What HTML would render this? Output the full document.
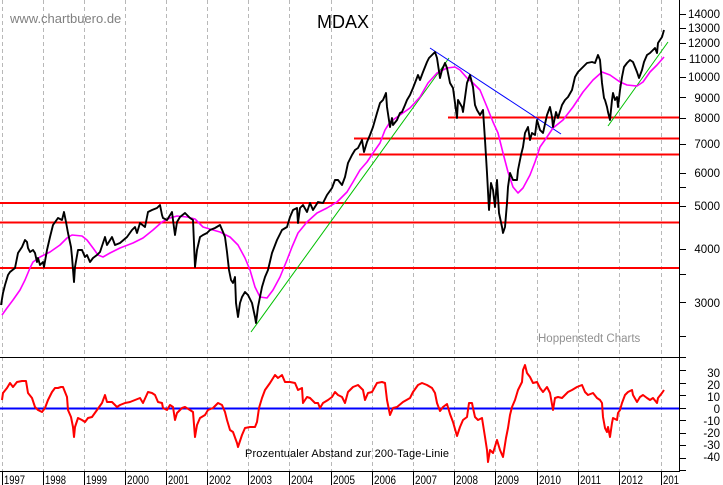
<!DOCTYPE html>
<html><head><meta charset="utf-8"><style>
html,body{margin:0;padding:0;background:#fff;}
svg{display:block;}
text{font-family:"Liberation Sans",Arial,sans-serif;}
</style></head><body>
<svg width="723" height="485" viewBox="0 0 723 485" xmlns="http://www.w3.org/2000/svg">
<rect width="723" height="485" fill="#fff"/>
<g stroke="#b8b8b8" stroke-width="1" stroke-dasharray="4,3">
<line x1="2.5" y1="0" x2="2.5" y2="471"/>
<line x1="43.5" y1="0" x2="43.5" y2="471"/>
<line x1="84.5" y1="0" x2="84.5" y2="471"/>
<line x1="125.5" y1="0" x2="125.5" y2="471"/>
<line x1="166.5" y1="0" x2="166.5" y2="471"/>
<line x1="207.5" y1="0" x2="207.5" y2="471"/>
<line x1="248.5" y1="0" x2="248.5" y2="471"/>
<line x1="289.5" y1="0" x2="289.5" y2="471"/>
<line x1="331.5" y1="0" x2="331.5" y2="471"/>
<line x1="372.5" y1="0" x2="372.5" y2="471"/>
<line x1="413.5" y1="0" x2="413.5" y2="471"/>
<line x1="454.5" y1="0" x2="454.5" y2="471"/>
<line x1="495.5" y1="0" x2="495.5" y2="471"/>
<line x1="537.5" y1="0" x2="537.5" y2="471"/>
<line x1="578.5" y1="0" x2="578.5" y2="471"/>
<line x1="619.5" y1="0" x2="619.5" y2="471"/>
<line x1="661.5" y1="0" x2="661.5" y2="471"/>
</g>
<text x="10" y="23" font-size="13" fill="#808080">www.chartbuero.de</text>
<text x="343" y="28" font-size="18" fill="#000" text-anchor="middle">MDAX</text>
<text x="538" y="342" font-size="11.5" fill="#909090">Hoppenstedt Charts</text>
<!-- horizontal red support lines -->
<g stroke="#ff0000" stroke-width="2">
<line x1="448" y1="117.5" x2="679" y2="117.5"/>
<line x1="354" y1="138.5" x2="679" y2="138.5"/>
<line x1="359" y1="154.5" x2="679" y2="154.5"/>
<line x1="0" y1="203" x2="679" y2="203"/>
<line x1="0" y1="222.5" x2="679" y2="222.5"/>
<line x1="0" y1="268" x2="679" y2="268"/>
</g>
<!-- trend lines -->
<line x1="251" y1="332" x2="449" y2="58" stroke="#00c000" stroke-width="1"/>
<line x1="608" y1="126" x2="668" y2="42" stroke="#00c000" stroke-width="1"/>
<line x1="430" y1="48" x2="561" y2="134" stroke="#0000ff" stroke-width="1"/>
<!-- 200 day line -->
<polyline fill="none" stroke="#ff00ff" stroke-width="1.6" stroke-linejoin="round" points="2,315 7,308 13,300 20,290 25,280 30,268 33,262 40,257 50,252 60,245 67,238 72,235 82,236 87,240 93,248 98,255 103,257 110,253 120,248 133,243 143,238 153,230 162,222 170,218 177,216 187,217 195,219 203,227 213,230 220,232 230,237 238,245 245,258 250,270 255,287 260,297 267,298 273,290 280,277 287,260 292,247 298,233 307,222 317,213 327,208 337,202 347,192 353,182 360,170 367,162 373,153 380,143 385,130 390,122 400,115 410,108 420,97 428,83 437,73 447,68 455,67 460,70 467,78 473,83 480,90 487,107 493,122 498,133 503,153 508,172 513,187 518,193 523,188 530,175 535,162 540,147 547,137 553,128 563,120 573,107 583,92 593,80 602,72 610,75 620,82 627,85 637,86 643,82 650,72 657,65 664,57"/>
<!-- price -->
<polyline fill="none" stroke="#000" stroke-width="1.9" stroke-linejoin="round" points="1,305 3,293 5,285 8,275 10,272 15,268 18,253 22,247 25,240 27,242 28,248 30,252 33,250 35,253 37,262 38,258 40,265 43,262 44,267 47,250 50,237 53,225 58,218 62,220 64,212 66,222 68,233 71,247 72,257 74,282 75,267 78,250 82,250 85,257 87,255 90,262 93,258 97,255 100,252 105,237 107,245 112,237 115,245 120,243 127,237 132,230 135,227 137,233 140,223 145,227 148,212 152,210 157,208 160,205 162,215 163,218 167,220 172,212 173,220 175,235 177,222 180,217 185,213 190,218 193,220 195,267 197,250 200,237 203,235 207,233 210,230 215,228 220,225 223,232 225,237 227,252 229,270 231,280 233,283 235,277 236,303 238,317 240,303 242,297 245,292 248,295 252,303 255,317 256,323 258,307 262,287 265,277 268,270 272,253 277,240 282,230 287,227 290,217 293,210 297,208 298,223 300,208 303,205 307,212 310,203 313,210 318,202 323,203 327,195 332,188 335,180 338,180 342,185 345,177 348,163 352,155 355,150 358,148 362,140 364,152 367,142 370,135 373,127 377,113 380,103 383,100 386,93 387,107 390,127 392,118 393,125 397,120 400,113 402,112 405,105 407,100 410,95 413,88 418,75 420,80 423,72 427,62 429,58 432,55 435,52 437,58 440,78 442,70 445,63 447,68 450,83 453,88 455,103 457,118 458,100 462,107 463,112 467,83 470,75 473,87 475,105 477,110 480,115 483,110 485,140 487,173 489,210 491,183 493,190 495,207 497,180 499,213 502,227 503,233 505,227 507,203 508,187 510,173 513,180 517,180 518,170 521,155 523,147 525,133 528,127 530,140 532,133 535,135 537,120 540,130 543,133 547,115 550,107 552,117 553,127 556,112 558,118 562,105 565,100 568,97 572,90 575,77 578,72 583,67 587,63 592,62 595,63 598,55 600,60 602,83 604,98 605,100 607,107 608,112 610,120 612,100 613,93 615,100 617,97 618,107 620,90 622,77 624,67 627,63 630,60 633,62 635,67 637,72 639,78 642,70 644,62 647,55 650,53 653,50 655,48 657,53 658,43 662,37 664,30"/>
<!-- separator -->
<line x1="0" y1="357.5" x2="679" y2="357.5" stroke="#000" stroke-width="1"/>
<!-- oscillator -->
<line x1="0" y1="408.5" x2="679" y2="408.5" stroke="#0000ff" stroke-width="2"/>
<polyline fill="none" stroke="#ff0000" stroke-width="2" stroke-linejoin="round" points="2,400 3,393 7,388 10,383 13,387 17,382 22,381 26,381 28,393 32,398 35,407 38,410 42,412 45,408 48,400 52,392 55,388 58,388 61,387 63,387 65,392 67,397 68,410 71,417 73,427 74,437 75,427 78,418 82,420 85,422 88,418 92,417 97,410 102,403 105,395 107,402 112,402 117,407 120,405 125,403 130,402 135,400 140,398 143,403 148,392 152,393 155,395 158,402 162,403 163,408 167,410 170,405 173,407 175,420 177,413 182,408 185,407 190,410 193,412 195,437 197,425 200,418 205,415 208,410 213,408 218,403 222,405 225,412 227,420 230,430 233,432 237,443 238,447 242,435 245,428 250,427 255,427 257,422 259,408 262,398 265,390 270,383 275,375 278,378 282,375 285,382 290,382 295,383 298,390 302,388 303,403 307,397 310,398 315,403 318,403 320,408 323,403 328,400 332,397 335,392 338,395 342,397 345,403 348,392 353,387 358,385 363,390 365,400 368,393 372,392 377,383 382,382 385,383 387,400 390,415 393,408 397,407 403,402 410,398 413,392 418,385 422,383 427,385 432,388 435,393 437,403 440,411 443,407 447,404 450,414 453,422 457,436 460,427 463,420 467,417 469,403 472,403 473,408 475,417 478,420 482,418 485,437 487,450 488,462 490,450 493,453 497,440 500,450 503,457 506,438 508,428 510,415 512,407 515,400 518,390 522,382 523,370 525,365 527,373 530,377 533,383 537,382 540,388 543,392 547,387 550,393 553,410 555,398 558,397 562,398 565,395 568,392 572,390 577,387 582,385 585,392 588,395 593,393 597,398 600,400 602,403 603,417 605,428 607,432 608,427 610,437 612,423 613,418 617,420 618,413 620,410 622,403 625,395 628,392 632,390 633,395 637,402 640,397 643,395 647,398 650,400 653,398 657,403 658,398 662,393 664,390"/>
<text x="245" y="457" font-size="11" fill="#000" textLength="204" lengthAdjust="spacing">Prozentualer Abstand zur 200-Tage-Linie</text>
<!-- right axis -->
<line x1="679.5" y1="0" x2="679.5" y2="472" stroke="#000" stroke-width="1"/>
<g stroke="#000" stroke-width="1">
<line x1="679" y1="14.5" x2="686" y2="14.5"/>
<line x1="679" y1="28.5" x2="686" y2="28.5"/>
<line x1="679" y1="43.5" x2="686" y2="43.5"/>
<line x1="679" y1="59.5" x2="686" y2="59.5"/>
<line x1="679" y1="77.5" x2="686" y2="77.5"/>
<line x1="679" y1="97.5" x2="686" y2="97.5"/>
<line x1="679" y1="118.5" x2="686" y2="118.5"/>
<line x1="679" y1="144.5" x2="686" y2="144.5"/>
<line x1="679" y1="173.5" x2="686" y2="173.5"/>
<line x1="679" y1="187.5" x2="686" y2="187.5"/>
<line x1="679" y1="206.5" x2="686" y2="206.5"/>
<line x1="679" y1="249.5" x2="686" y2="249.5"/>
<line x1="679" y1="274.5" x2="686" y2="274.5"/>
<line x1="679" y1="302.5" x2="686" y2="302.5"/>
<line x1="679" y1="336.5" x2="686" y2="336.5"/>
<line x1="679" y1="357.5" x2="686" y2="357.5"/>
<line x1="679" y1="370.5" x2="686" y2="370.5"/>
<line x1="679" y1="383.5" x2="686" y2="383.5"/>
<line x1="679" y1="395.5" x2="686" y2="395.5"/>
<line x1="679" y1="408.5" x2="686" y2="408.5"/>
<line x1="679" y1="420.5" x2="686" y2="420.5"/>
<line x1="679" y1="433.5" x2="686" y2="433.5"/>
<line x1="679" y1="445.5" x2="686" y2="445.5"/>
<line x1="679" y1="458.5" x2="686" y2="458.5"/>
<line x1="679" y1="470.5" x2="686" y2="470.5"/>
</g>
<g font-size="11.5" fill="#000" text-anchor="end">
<text x="720" y="18">14000</text>
<text x="720" y="32">13000</text>
<text x="720" y="47">12000</text>
<text x="720" y="63">11000</text>
<text x="720" y="81">10000</text>
<text x="720" y="102">9000</text>
<text x="720" y="122">8000</text>
<text x="720" y="148">7000</text>
<text x="720" y="177">6000</text>
<text x="720" y="210">5000</text>
<text x="720" y="253">4000</text>
<text x="720" y="307">3000</text>
</g>
<g font-size="11.5" fill="#000" text-anchor="end">
<text x="720" y="377">30</text>
<text x="720" y="389">20</text>
<text x="720" y="401">10</text>
<text x="720" y="413">0</text>
<text x="720" y="425">-10</text>
<text x="720" y="437">-20</text>
<text x="720" y="449">-30</text>
<text x="720" y="461">-40</text>
</g>
<!-- bottom axis -->
<line x1="0" y1="471.5" x2="679" y2="471.5" stroke="#000" stroke-width="1"/>
<g stroke="#000" stroke-width="1">
<line x1="2.5" y1="472" x2="2.5" y2="485"/>
<line x1="43.5" y1="472" x2="43.5" y2="485"/>
<line x1="84.5" y1="472" x2="84.5" y2="485"/>
<line x1="125.5" y1="472" x2="125.5" y2="485"/>
<line x1="166.5" y1="472" x2="166.5" y2="485"/>
<line x1="207.5" y1="472" x2="207.5" y2="485"/>
<line x1="248.5" y1="472" x2="248.5" y2="485"/>
<line x1="289.5" y1="472" x2="289.5" y2="485"/>
<line x1="331.5" y1="472" x2="331.5" y2="485"/>
<line x1="372.5" y1="472" x2="372.5" y2="485"/>
<line x1="413.5" y1="472" x2="413.5" y2="485"/>
<line x1="454.5" y1="472" x2="454.5" y2="485"/>
<line x1="495.5" y1="472" x2="495.5" y2="485"/>
<line x1="537.5" y1="472" x2="537.5" y2="485"/>
<line x1="578.5" y1="472" x2="578.5" y2="485"/>
<line x1="619.5" y1="472" x2="619.5" y2="485"/>
<line x1="661.5" y1="472" x2="661.5" y2="485"/>
</g>
<g font-size="11.5" fill="#000">
<text x="4" y="484" textLength="21" lengthAdjust="spacingAndGlyphs">1997</text>
<text x="45" y="484" textLength="21" lengthAdjust="spacingAndGlyphs">1998</text>
<text x="86" y="484" textLength="21" lengthAdjust="spacingAndGlyphs">1999</text>
<text x="127" y="484" textLength="22" lengthAdjust="spacingAndGlyphs">2000</text>
<text x="168" y="484" textLength="21" lengthAdjust="spacingAndGlyphs">2001</text>
<text x="209" y="484" textLength="22" lengthAdjust="spacingAndGlyphs">2002</text>
<text x="250" y="484" textLength="22" lengthAdjust="spacingAndGlyphs">2003</text>
<text x="291" y="484" textLength="22" lengthAdjust="spacingAndGlyphs">2004</text>
<text x="333" y="484" textLength="22" lengthAdjust="spacingAndGlyphs">2005</text>
<text x="374" y="484" textLength="22" lengthAdjust="spacingAndGlyphs">2006</text>
<text x="415" y="484" textLength="22" lengthAdjust="spacingAndGlyphs">2007</text>
<text x="456" y="484" textLength="22" lengthAdjust="spacingAndGlyphs">2008</text>
<text x="497" y="484" textLength="22" lengthAdjust="spacingAndGlyphs">2009</text>
<text x="539" y="484" textLength="22" lengthAdjust="spacingAndGlyphs">2010</text>
<text x="580" y="484" textLength="21" lengthAdjust="spacingAndGlyphs">2011</text>
<text x="621" y="484" textLength="22" lengthAdjust="spacingAndGlyphs">2012</text>
<text x="663" y="484" textLength="16" lengthAdjust="spacingAndGlyphs">201</text>
</g>
</svg>
</body></html>
